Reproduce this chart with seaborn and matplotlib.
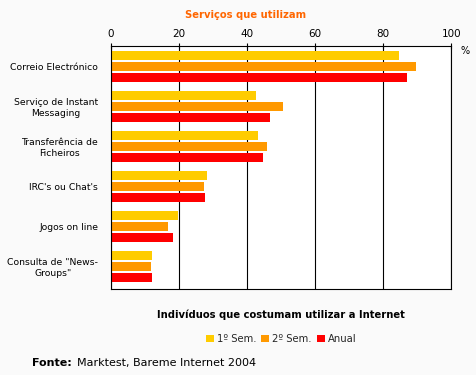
import matplotlib
matplotlib.use("Agg")
import matplotlib.pyplot as plt
import seaborn as sns
import pandas as pd

categories = ["Correio Electrónico", "Serviço de Instant\nMessaging", "Transferência de\nFicheiros",
              "IRC's ou Chat's", "Jogos on line", "Consulta de \"News-\nGroups\""]
series = ["1º Sem.", "2º Sem.", "Anual"]
sem1 = [84.5, 42.7, 43.2, 28.2, 19.8, 12.1]
sem2 = [89.5, 50.5, 45.8, 27.4, 16.8, 11.8]
anual = [86.9, 46.8, 44.7, 27.7, 18.3, 12.1]
xticks = [0, 20, 40, 60, 80, 100]
colors = ["#FFCC00", "#FF9900", "#FF0000"]

rows = []
for s, vals in zip(series, [sem1, sem2, anual]):
    for c, v in zip(categories, vals):
        rows.append({"cat": c, "series": s, "value": v})
df = pd.DataFrame(rows)

sns.set_theme(style="white")
plt.rcParams['font.family'] = ['DejaVu Sans']

W, H = 477, 375
fig = plt.figure(figsize=(W/100, H/100), dpi=100, facecolor="#FAFAFA")
ax = fig.add_axes([110.7/W, 1-289/H, (451.3-110.7)/W, (289-46)/H])
ax.set_facecolor("white")

sns.barplot(data=df, y="cat", x="value", hue="series", orient="h", order=categories,
            hue_order=series, palette=colors, width=0.825, gap=0.2, ax=ax,
            saturation=1, legend=False, errorbar=None, linewidth=0)

ax.set_xlim(0, 100)
ax.set_ylim(5.567, -0.508)
ax.set_xticks(xticks)
ax.xaxis.tick_top()
ax.tick_params(axis="x", top=True, bottom=False, direction="inout", length=4, width=0.8,
               color="black", labelsize=7.5, pad=3, labelcolor="black")
ax.tick_params(axis="y", left=False, labelsize=6.7, pad=3, labelcolor="black")
for lab in ax.get_yticklabels():
    lab.set_multialignment("center")
ax.set_xlabel("")
ax.set_ylabel("")
ax.xaxis.grid(True, color="black", linewidth=0.8)
ax.set_axisbelow(True)
for sp in ax.spines.values():
    sp.set_visible(True)
    sp.set_color("black")
    sp.set_linewidth(0.8)

fig.text(246/W, 1-15/H, "Serviços que utilizam", color="#FF6600", fontweight="bold",
         fontsize=7.2, ha="center", va="center")
fig.text(465/W, 1-51/H, "%", fontsize=7, ha="center", va="center", color="black")
fig.text(281/W, 1-315/H, "Indivíduos que costumam utilizar a Internet", fontweight="bold",
         fontsize=7.2, ha="center", va="center", color="black")

from matplotlib.patches import Patch
handles = [Patch(facecolor=c, edgecolor="none") for c in colors]
fig.legend(handles, series, loc="center", bbox_to_anchor=(281/W, 1-339/H), ncol=3,
           frameon=False, fontsize=7.2, handlelength=0.8, handleheight=0.8,
           handletextpad=0.3, columnspacing=0.5)

fig.text(32/W, 1-363/H, "Fonte:", fontweight="bold", fontsize=8, ha="left", va="center", color="black")
fig.text(77/W, 1-363/H, "Marktest, Bareme Internet 2004", fontsize=8, ha="left", va="center", color="black")

fig.savefig("out.png", dpi=100, facecolor=fig.get_facecolor())
